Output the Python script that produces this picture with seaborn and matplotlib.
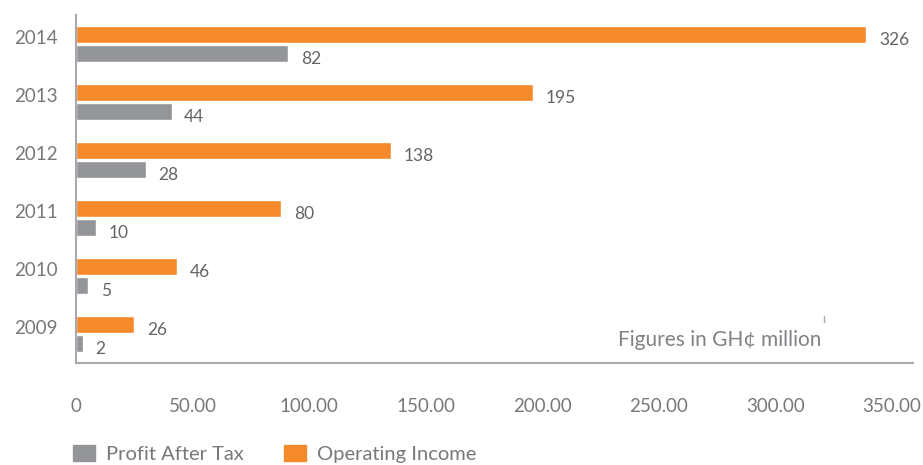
import matplotlib
matplotlib.use("Agg")
import matplotlib.pyplot as plt
import matplotlib.patches as mpatches
import matplotlib.transforms as mtransforms
import seaborn as sns
import pandas as pd

# ---- data ----
years = ["2014", "2013", "2012", "2011", "2010", "2009"]
operating_income = [339, 196, 135, 88, 43.5, 25]        # bar lengths as drawn
profit_after_tax = [91, 41, 30, 8.5, 5.2, 2.8]          # bar lengths as drawn
operating_labels = ["326", "195", "138", "80", "46", "26"]
profit_labels = ["82", "44", "28", "10", "5", "2"]
series_names = ["Operating Income", "Profit After Tax"]
x_ticks = [0, 50, 100, 150, 200, 250, 300, 350]
x_ticklabels = ["0", "50.00", "100.00", "150.00", "200.00", "250.00", "300.00", "350.00"]
note = "Figures in GH¢ million"

ORANGE = "#f58a2a"
GREY = "#939598"
AXIS = "#a7a9ac"
TXT = "#77787b"

df = pd.DataFrame({
    "year": years * 2,
    "series": [series_names[0]] * len(years) + [series_names[1]] * len(years),
    "value": operating_income + profit_after_tax,
})

sns.set_theme(style="white")
plt.rcParams["font.family"] = ["Lato", "DejaVu Sans"]

fig = plt.figure(figsize=(9.23, 4.65), dpi=100)
ax = fig.add_axes([76 / 923, 1 - 363 / 465, (913 - 76) / 923, 348 / 465])

sns.barplot(data=df, y="year", x="value", hue="series", order=years,
            hue_order=series_names, palette=[ORANGE, GREY], orient="h",
            width=0.64, gap=0.1, saturation=1, legend=False, ax=ax)

# value labels
for cont, labs in zip(ax.containers, [operating_labels, profit_labels]):
    for bar, lab in zip(cont, labs):
        ax.annotate(lab, (bar.get_x() + bar.get_width(), bar.get_y() + bar.get_height() / 2),
                    xytext=(9, -4), textcoords="offset points", ha="left", va="center",
                    fontsize=12.5, color="#636466")

ax.set_xlim(0, 359)
ax.set_ylim(len(years) - 0.5, -0.5)
ax.set_xlabel("")
ax.set_ylabel("")

# x axis
ax.set_xticks(x_ticks)
ax.set_xticklabels(x_ticklabels)
ax.tick_params(axis="x", direction="out", length=5, width=1, color=AXIS,
               pad=20, labelsize=13.5, labelcolor=TXT)

# y axis: ticks at category boundaries, labels at centres
ax.set_yticks([i - 0.5 for i in range(len(years))])
ax.set_yticklabels([""] * len(years))
ax.set_yticks(list(range(len(years))), minor=True)
ax.set_yticklabels(years, minor=True)
ax.tick_params(axis="y", which="major", direction="out", length=7, width=1, color=AXIS)
ax.tick_params(axis="y", which="minor", length=0, pad=13, labelsize=13.5, labelcolor=TXT)
up = mtransforms.ScaledTranslation(0, 4 / 72, fig.dpi_scale_trans)
for t in ax.get_yticklabels(minor=True):
    t.set_va("center")
    t.set_transform(t.get_transform() + up)

for s in ["top", "right"]:
    ax.spines[s].set_visible(False)
for s in ["left", "bottom"]:
    ax.spines[s].set_color(AXIS)
    ax.spines[s].set_linewidth(1.5)

ax.text(0.891, 0.066, note, transform=ax.transAxes, ha="right", va="center",
        fontsize=15, color="#808285")
ax.plot([0.894, 0.894], [0.118, 0.136], transform=ax.transAxes, color=AXIS, lw=1)

handles = [mpatches.Patch(color=GREY, label=series_names[1]),
           mpatches.Patch(color=ORANGE, label=series_names[0])]
fig.legend(handles=handles, loc="center left", bbox_to_anchor=(73 / 923, 1 - 454 / 465),
           ncol=2, frameon=False, fontsize=14.5, labelcolor=TXT,
           borderpad=0, borderaxespad=0,
           handlelength=1.08, handleheight=0.82, handletextpad=0.55, columnspacing=2.0)

fig.savefig("out.png", dpi=100)
